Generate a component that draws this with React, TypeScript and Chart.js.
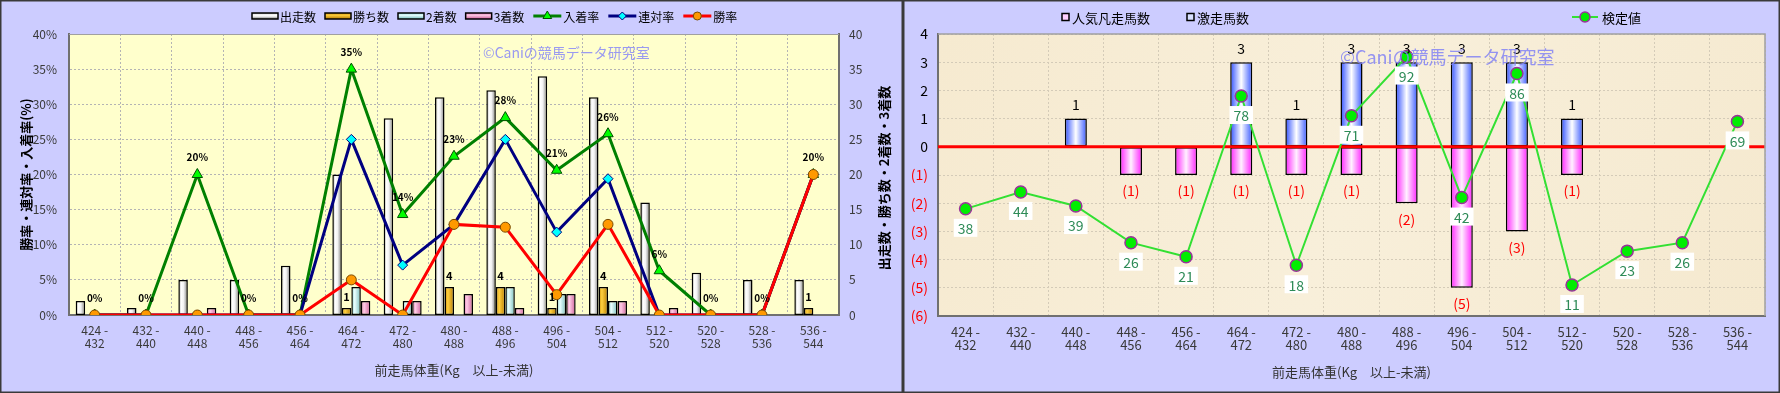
import React, { useEffect, useRef } from 'react';
import { Chart, registerables } from 'chart.js';

Chart.register(...registerables);

const FONT = "'Noto Sans CJK JP', 'Noto Sans', sans-serif";

// ---------------- data ----------------
const weightBins: string[][] = [
  ['424 -', '432'], ['432 -', '440'], ['440 -', '448'], ['448 -', '456'], ['456 -', '464'],
  ['464 -', '472'], ['472 -', '480'], ['480 -', '488'], ['488 -', '496'], ['496 -', '504'],
  ['504 -', '512'], ['512 -', '520'], ['520 -', '528'], ['528 -', '536'], ['536 -', '544'],
];

const starts = [2, 1, 5, 5, 7, 20, 28, 31, 32, 34, 31, 16, 6, 5, 5];
const wins = [0, 0, 0, 0, 0, 1, 0, 4, 4, 1, 4, 0, 0, 0, 1];
const seconds = [0, 0, 0, 0, 0, 4, 2, 0, 4, 3, 2, 0, 0, 0, 0];
const thirds = [0, 0, 1, 0, 0, 2, 2, 3, 1, 3, 2, 1, 0, 0, 0];

const placeRate = [0, 0, 20, 0, 0, 35, 14.3, 22.6, 28.1, 20.6, 25.8, 6.3, 0, 0, 20];
const top2Rate = [0, 0, 0, 0, 0, 25, 7.1, 12.9, 25, 11.8, 19.4, 0, 0, 0, 20];
const winRate = [0, 0, 0, 0, 0, 5, 0, 12.9, 12.5, 2.9, 12.9, 0, 0, 0, 20];

const surgeHorses = [0, 0, 1, 0, 0, 3, 1, 3, 3, 3, 3, 1, 0, 0, 0];
const flopHorses = [0, 0, 0, -1, -1, -1, -1, -1, -2, -5, -3, -1, 0, 0, 0];
const testValues = [38, 44, 39, 26, 21, 78, 18, 71, 92, 42, 86, 11, 23, 26, 69];

const WATERMARK = '©Caniの競馬データ研究室';
const X_TITLE = '前走馬体重(Kg　以上-未満)';

// ---------------- styles ----------------
const startStops: [number, string][] = [[0, '#9c9c9c'], [0.3, '#ffffff'], [0.55, '#f2f2f2'], [1, '#7c7c7c']];
const winStops: [number, string][] = [[0, '#c88a00'], [0.35, '#ffd040'], [1, '#b87c00']];
const secondStops: [number, string][] = [[0, '#88d0d0'], [0.35, '#eaffff'], [1, '#78bcbc']];
const thirdStops: [number, string][] = [[0, '#dc70ac'], [0.35, '#ffcce6'], [1, '#cc609a']];
const blueStops: [number, string][] = [[0, '#2f4fff'], [0.5, '#ffffff'], [1, '#3a5aff']];
const pinkStops: [number, string][] = [[0, '#ff22ff'], [0.5, '#fff0ff'], [1, '#ff22ff']];

const L_CAT = 0.74;
const R_CAT = 0.4;

function barFill(stops: [number, string][], slot: number, slots: number, catPct: number) {
  return (c: any) => {
    const chart = c.chart;
    const x = chart.scales && chart.scales.x;
    const fallback = stops[1][1];
    if (c.type !== 'data' || !x || !isFinite(x.left) || !isFinite(x.right)) return fallback;
    const n = chart.data.labels.length;
    const cat = (x.right - x.left) / n;
    const center = x.getPixelForValue(c.dataIndex);
    const group = cat * catPct;
    const bw = group / slots;
    const left = center - group / 2 + slot * bw;
    if (!isFinite(left)) return fallback;
    const g = chart.ctx.createLinearGradient(left, 0, left + bw, 0);
    stops.forEach(([o, col]) => g.addColorStop(o, col));
    return g;
  };
}

function drawMarker(ctx: CanvasRenderingContext2D, style: string, x: number, y: number, r: number,
  fill: string, stroke: string, lw: number) {
  ctx.save();
  ctx.beginPath();
  if (style === 'triangle') {
    ctx.moveTo(x, y - r);
    ctx.lineTo(x + r * 0.87, y + r * 0.5);
    ctx.lineTo(x - r * 0.87, y + r * 0.5);
    ctx.closePath();
  } else if (style === 'rectRot') {
    ctx.moveTo(x, y - r);
    ctx.lineTo(x + r, y);
    ctx.lineTo(x, y + r);
    ctx.lineTo(x - r, y);
    ctx.closePath();
  } else {
    ctx.arc(x, y, r, 0, Math.PI * 2);
  }
  ctx.fillStyle = fill;
  ctx.fill();
  ctx.lineWidth = lw;
  ctx.strokeStyle = stroke;
  ctx.stroke();
  ctx.restore();
}

const zeroless = (c: any) => (c.raw === 0 ? 0 : 1.5);

// ---------------- left chart plugin ----------------
const leftDecor = {
  id: 'leftDecor',
  beforeDraw(chart: any) {
    const { ctx, width, height, chartArea: a } = chart;
    ctx.save();
    ctx.fillStyle = '#ccccff';
    ctx.fillRect(0, 0, width, height);
    ctx.fillStyle = '#ffffcc';
    ctx.fillRect(a.left, a.top, a.right - a.left, a.bottom - a.top);
    ctx.strokeStyle = '#3a3a3a';
    ctx.lineWidth = 1.5;
    ctx.strokeRect(0.75, 0.75, width - 1.5, height - 1.5);
    ctx.restore();
  },
  beforeDatasetsDraw(chart: any) {
    const { ctx } = chart;
    ctx.save();
    ctx.font = `14px ${FONT}`;
    ctx.fillStyle = '#9a9af0';
    ctx.textAlign = 'left';
    ctx.textBaseline = 'middle';
    ctx.fillText(WATERMARK, 483, 53);
    ctx.restore();
  },
  afterDatasetsDraw(chart: any) {
    const { ctx } = chart;
    ctx.save();
    ctx.fillStyle = '#000';
    ctx.textAlign = 'center';
    ctx.textBaseline = 'middle';
    // 入着率 labels
    ctx.font = `bold 10px ${FONT}`;
    const pm = chart.getDatasetMeta(4);
    placeRate.forEach((v, i) => {
      const el = pm.data[i];
      if (!el) return;
      ctx.fillText(`${Math.round(v)}%`, el.x, el.y - 17);
    });
    // 勝ち数 labels
    ctx.font = `bold 11px ${FONT}`;
    const wm = chart.getDatasetMeta(1);
    wins.forEach((v, i) => {
      const el = wm.data[i];
      if (!el || v === 0) return;
      ctx.fillText(String(v), el.x, el.y - 11);
    });
    ctx.restore();
  },
  afterDraw(chart: any) {
    const { ctx, chartArea: a } = chart;
    ctx.save();
    // top border of plot
    ctx.strokeStyle = '#a0a0a0';
    ctx.lineWidth = 1;
    ctx.beginPath();
    ctx.moveTo(a.left, a.top + 0.5);
    ctx.lineTo(a.right, a.top + 0.5);
    ctx.stroke();

    // legend
    const y = 16;
    let x = 252;
    ctx.font = `12px ${FONT}`;
    ctx.textBaseline = 'middle';
    ctx.textAlign = 'left';
    const ds = chart.data.datasets;
    const barStops = [startStops, winStops, secondStops, thirdStops];
    for (let i = 0; i < 4; i++) {
      const g = ctx.createLinearGradient(0, y - 3, 0, y + 3);
      barStops[i].forEach(([o, col]) => g.addColorStop(o, col));
      ctx.fillStyle = g;
      ctx.fillRect(x, y - 3, 26, 6);
      ctx.strokeStyle = '#000';
      ctx.lineWidth = 1.5;
      ctx.strokeRect(x, y - 3, 26, 6);
      ctx.fillStyle = '#000';
      ctx.fillText(ds[i].label, x + 28, y + 1);
      x += 28 + ctx.measureText(ds[i].label).width + 9;
    }
    for (let i = 4; i < 7; i++) {
      const d = ds[i];
      ctx.strokeStyle = d.borderColor;
      ctx.lineWidth = 3;
      ctx.beginPath();
      ctx.moveTo(x, y);
      ctx.lineTo(x + 28, y);
      ctx.stroke();
      drawMarker(ctx, d.pointStyle, x + 14, y, d.pointRadius - 1, d.pointBackgroundColor, d.pointBorderColor, 1);
      ctx.fillStyle = '#000';
      ctx.fillText(d.label, x + 30, y + 1);
      x += 30 + ctx.measureText(d.label).width + 9;
    }

    // right axis title (reads bottom to top)
    ctx.save();
    ctx.translate(884, 178);
    ctx.rotate(-Math.PI / 2);
    ctx.font = `bold 13px ${FONT}`;
    ctx.textAlign = 'center';
    ctx.fillStyle = '#000';
    ctx.fillText('出走数・勝ち数・2着数・3着数', 0, 0);
    ctx.restore();
    ctx.restore();
  },
};

// ---------------- right chart plugin ----------------
const rightDecor = {
  id: 'rightDecor',
  beforeDraw(chart: any) {
    const { ctx, width, height, chartArea: a } = chart;
    ctx.save();
    ctx.fillStyle = '#ccccff';
    ctx.fillRect(0, 0, width, height);
    const g = ctx.createLinearGradient(a.left, a.top, a.right, a.bottom);
    g.addColorStop(0, '#f6ead0');
    g.addColorStop(0.5, '#f8efda');
    g.addColorStop(1, '#f5e9cf');
    ctx.fillStyle = g;
    ctx.fillRect(a.left, a.top, a.right - a.left, a.bottom - a.top);
    ctx.strokeStyle = '#3a3a3a';
    ctx.lineWidth = 1.5;
    ctx.strokeRect(0.75, 0.75, width - 1.5, height - 1.5);
    ctx.restore();
  },
  beforeDatasetDraw(chart: any, args: any) {
    if (args.meta.type !== 'line') return;
    const { ctx, chartArea: a } = chart;
    const y0 = chart.scales.y.getPixelForValue(0);
    ctx.save();
    ctx.strokeStyle = '#ff0000';
    ctx.lineWidth = 3;
    ctx.beginPath();
    ctx.moveTo(a.left, y0);
    ctx.lineTo(a.right, y0);
    ctx.stroke();
    ctx.restore();
  },
  afterDatasetsDraw(chart: any) {
    const { ctx } = chart;
    ctx.save();
    ctx.textAlign = 'center';
    ctx.textBaseline = 'middle';
    ctx.font = `14px ${FONT}`;
    const sm = chart.getDatasetMeta(1);
    surgeHorses.forEach((v, i) => {
      const el = sm.data[i];
      if (!el || v === 0) return;
      ctx.fillStyle = '#000';
      ctx.fillText(String(v), el.x, el.y - 14);
    });
    const fm = chart.getDatasetMeta(0);
    flopHorses.forEach((v, i) => {
      const el = fm.data[i];
      if (!el || v === 0) return;
      ctx.fillStyle = '#ff0000';
      ctx.fillText(`(${-v})`, el.x, el.y + 16);
    });
    const tm = chart.getDatasetMeta(2);
    testValues.forEach((v, i) => {
      const el = tm.data[i];
      if (!el) return;
      const t = String(v);
      const w = ctx.measureText(t).width + 8;
      const cy = el.y + 19;
      ctx.fillStyle = '#ffffff';
      ctx.fillRect(el.x - w / 2, cy - 9, w, 18);
      ctx.fillStyle = '#2e8b57';
      ctx.fillText(t, el.x, cy + 1);
    });
    // watermark
    ctx.font = `18px ${FONT}`;
    ctx.textAlign = 'left';
    ctx.fillStyle = 'rgba(130,130,245,0.85)';
    ctx.fillText(WATERMARK, 437, 57);
    ctx.restore();
  },
  afterDraw(chart: any) {
    const { ctx, chartArea: a } = chart;
    ctx.save();
    ctx.strokeStyle = '#a0a0a0';
    ctx.lineWidth = 1.5;
    ctx.beginPath();
    ctx.moveTo(a.left, a.top);
    ctx.lineTo(a.right, a.top);
    ctx.lineTo(a.right, a.bottom);
    ctx.stroke();

    // legend
    const y = 17;
    ctx.font = `13px ${FONT}`;
    ctx.textBaseline = 'middle';
    ctx.textAlign = 'left';
    const ds = chart.data.datasets;
    const sq = [
      { x: 159, fill: '#ffd0ff', label: ds[0].label },
      { x: 284, fill: '#d8e0ff', label: ds[1].label },
    ];
    sq.forEach((s) => {
      ctx.fillStyle = s.fill;
      ctx.fillRect(s.x, y - 3.5, 7, 7);
      ctx.strokeStyle = '#000';
      ctx.lineWidth = 1.5;
      ctx.strokeRect(s.x, y - 3.5, 7, 7);
      ctx.fillStyle = '#000';
      ctx.fillText(s.label, s.x + 10, y + 1);
    });
    const lx = 669;
    ctx.strokeStyle = ds[2].borderColor;
    ctx.lineWidth = 2;
    ctx.beginPath();
    ctx.moveTo(lx, y);
    ctx.lineTo(lx + 26, y);
    ctx.stroke();
    drawMarker(ctx, 'circle', lx + 13, y, 5, ds[2].pointBackgroundColor, ds[2].pointBorderColor, 1.5);
    ctx.fillStyle = '#000';
    ctx.fillText(ds[2].label, lx + 30, y + 1);
    ctx.restore();
  },
};

function LeftChart() {
  const ref = useRef<HTMLCanvasElement>(null);
  useEffect(() => {
    if (!ref.current) return;
    const tickFont = { family: FONT, size: 12, lineHeight: 1.1 };
    const chart = new Chart(ref.current, {
      type: 'bar',
      data: {
        labels: weightBins as any,
        datasets: [
          { label: '出走数', data: starts, yAxisID: 'yCount', backgroundColor: barFill(startStops, 0, 4, L_CAT), borderColor: '#000', borderWidth: zeroless, borderSkipped: false, categoryPercentage: L_CAT, barPercentage: 1, order: 10 } as any,
          { label: '勝ち数', data: wins, yAxisID: 'yCount', backgroundColor: barFill(winStops, 1, 4, L_CAT), borderColor: '#000', borderWidth: zeroless, borderSkipped: false, categoryPercentage: L_CAT, barPercentage: 1, order: 10 },
          { label: '2着数', data: seconds, yAxisID: 'yCount', backgroundColor: barFill(secondStops, 2, 4, L_CAT), borderColor: '#000', borderWidth: zeroless, borderSkipped: false, categoryPercentage: L_CAT, barPercentage: 1, order: 10 },
          { label: '3着数', data: thirds, yAxisID: 'yCount', backgroundColor: barFill(thirdStops, 3, 4, L_CAT), borderColor: '#000', borderWidth: zeroless, borderSkipped: false, categoryPercentage: L_CAT, barPercentage: 1, order: 10 },
          { type: 'line', label: '入着率', data: placeRate, yAxisID: 'yRate', borderColor: '#008000', borderWidth: 3, pointStyle: 'triangle', pointRadius: 6, pointBackgroundColor: '#00ff00', pointBorderColor: '#005000', pointBorderWidth: 1, order: 3 },
          { type: 'line', label: '連対率', data: top2Rate, yAxisID: 'yRate', borderColor: '#000080', borderWidth: 3, pointStyle: 'rectRot', pointRadius: 5, pointBackgroundColor: '#00ffff', pointBorderColor: '#000080', pointBorderWidth: 1, order: 2 },
          { type: 'line', label: '勝率', data: winRate, yAxisID: 'yRate', borderColor: '#ff0000', borderWidth: 3, pointStyle: 'circle', pointRadius: 5, pointBackgroundColor: '#ff9900', pointBorderColor: '#7a4a00', pointBorderWidth: 1, order: 1 },
        ] as any,
      },
      options: {
        responsive: false,
        maintainAspectRatio: false,
        animation: false,
        devicePixelRatio: 1,
        layout: { padding: { top: 34, left: 0, right: 0, bottom: 0 } },
        plugins: { legend: { display: false }, tooltip: { enabled: false } },
        scales: {
          x: {
            offset: true,
            grid: { color: '#b4b4b4', offset: true, drawTicks: false, tickLength: 0 },
            border: { display: true, color: '#707070', width: 2, dash: [2, 2] },
            ticks: { color: '#3a3a3a', font: tickFont, padding: 9, maxRotation: 0, autoSkip: false },
            title: { display: true, text: X_TITLE, color: '#333', font: { family: FONT, size: 13 }, padding: { top: 0, bottom: 15 } },
            afterFit: (s: any) => { s.height = 78; },
          },
          yRate: {
            position: 'left',
            min: 0,
            max: 40,
            ticks: { stepSize: 5, callback: (v: any) => `${v}%`, color: '#3a3a3a', font: { family: FONT, size: 12 }, padding: 12 },
            grid: { color: '#b4b4b4', drawTicks: false, tickLength: 0 },
            border: { display: true, color: '#707070', width: 2, dash: [2, 2] },
            title: { display: true, text: '勝率・連対率・入着率(%)', color: '#000', font: { family: FONT, size: 13, weight: 'bold' }, padding: { top: 18, bottom: 0 } },
            afterFit: (s: any) => { s.width = 69; },
          },
          yCount: {
            position: 'right',
            min: 0,
            max: 40,
            ticks: { stepSize: 5, color: '#3a3a3a', font: { family: FONT, size: 12 }, padding: 10 },
            grid: { display: false, drawTicks: false, tickLength: 0 },
            border: { display: true, color: '#707070', width: 2 },
            afterFit: (s: any) => { s.width = 64; },
          },
        },
      } as any,
      plugins: [leftDecor],
    });
    return () => chart.destroy();
  }, []);
  return <canvas ref={ref} width={903} height={393} style={{ display: 'block', width: 903, height: 393 }} />;
}

function RightChart() {
  const ref = useRef<HTMLCanvasElement>(null);
  useEffect(() => {
    if (!ref.current) return;
    const chart = new Chart(ref.current, {
      type: 'bar',
      data: {
        labels: weightBins as any,
        datasets: [
          { label: '人気凡走馬数', data: flopHorses, stack: 's', backgroundColor: barFill(pinkStops, 0, 1, R_CAT), borderColor: '#000', borderWidth: zeroless, borderSkipped: false, categoryPercentage: R_CAT, barPercentage: 1, order: 1 } as any,
          { label: '激走馬数', data: surgeHorses, stack: 's', backgroundColor: barFill(blueStops, 0, 1, R_CAT), borderColor: '#000', borderWidth: zeroless, borderSkipped: false, categoryPercentage: R_CAT, barPercentage: 1, order: 1 },
          { type: 'line', label: '検定値', data: testValues, yAxisID: 'yTest', borderColor: '#33e033', borderWidth: 2, pointStyle: 'circle', pointRadius: 6, pointBackgroundColor: '#00ee00', pointBorderColor: '#993399', pointBorderWidth: 1.5, order: 0 },
        ] as any,
      },
      options: {
        responsive: false,
        maintainAspectRatio: false,
        animation: false,
        devicePixelRatio: 1,
        layout: { padding: { top: 34, left: 0, right: 15, bottom: 0 } },
        plugins: { legend: { display: false }, tooltip: { enabled: false } },
        scales: {
          x: {
            stacked: true,
            offset: true,
            grid: { color: '#d4cbb8', offset: true, drawTicks: false, tickLength: 0 },
            border: { display: true, color: '#707070', width: 2, dash: [2, 2] },
            ticks: { color: '#3a3a3a', font: { family: FONT, size: 13, lineHeight: 1.0 }, padding: 10, maxRotation: 0, autoSkip: false },
            title: { display: true, text: X_TITLE, color: '#333', font: { family: FONT, size: 13 }, padding: { top: 0, bottom: 13 } },
            afterFit: (s: any) => { s.height = 77; },
          },
          y: {
            stacked: true,
            position: 'left',
            min: -6,
            max: 4,
            ticks: {
              stepSize: 1,
              callback: (v: any) => (v < 0 ? `(${-v})` : `${v}`),
              color: (c: any) => (c.tick && c.tick.value < 0 ? '#ff0000' : '#000000'),
              font: { family: FONT, size: 14 },
              padding: 10,
            },
            grid: { color: '#d4cbb8', drawTicks: false, tickLength: 0 },
            border: { display: true, color: '#707070', width: 2, dash: [2, 2] },
            afterFit: (s: any) => { s.width = 35; },
          },
          yTest: { display: false, min: 0, max: 100 },
        },
      } as any,
      plugins: [rightDecor],
    });
    return () => chart.destroy();
  }, []);
  return <canvas ref={ref} width={877} height={393} style={{ display: 'block', width: 877, height: 393 }} />;
}

export default function App() {
  return (
    <div style={{ position: 'fixed', left: 0, top: 0, width: 1780, height: 393, display: 'flex', background: '#ccccff' }}>
      <LeftChart />
      <RightChart />
    </div>
  );
}
